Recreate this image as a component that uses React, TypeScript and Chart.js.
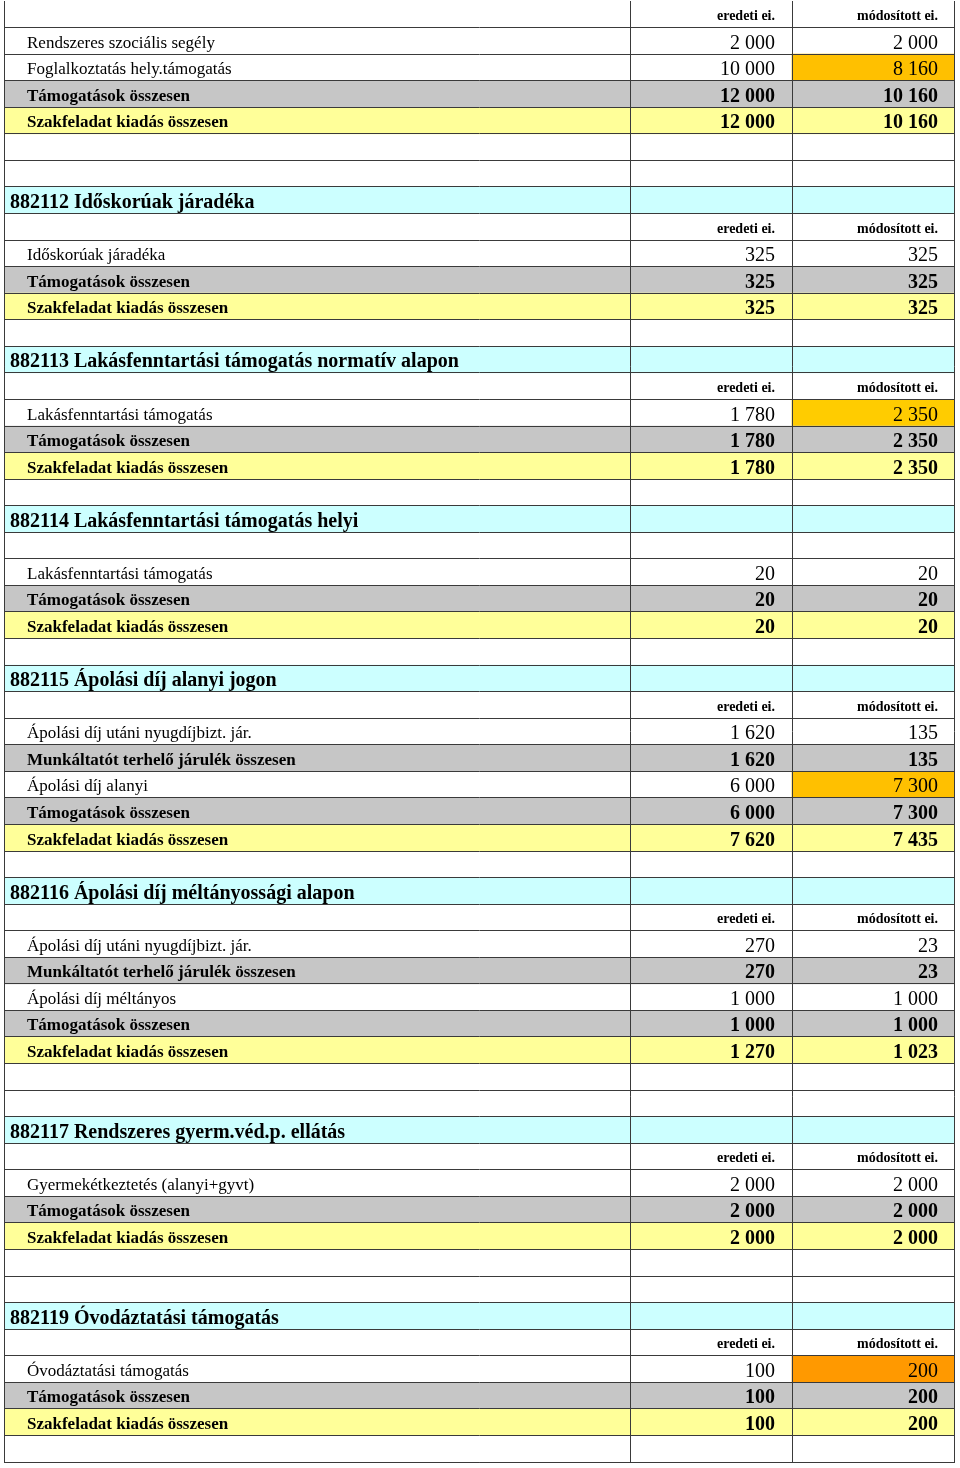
import React, { useEffect, useRef } from "react";
import { Chart, registerables } from "chart.js";

Chart.register(...registerables);

// ---- data ----
const ROW_KINDS: string[] = [
  "head", "item", "item", "sum", "total", "blank", "blank",
  "title", "head", "item", "sum", "total", "blank",
  "title", "head", "item", "sum", "total", "blank",
  "title", "blank", "item", "sum", "total", "blank",
  "title", "head", "item", "sum", "item", "sum", "total", "blank",
  "title", "head", "item", "sum", "item", "sum", "total", "blank", "blank",
  "title", "head", "item", "sum", "total", "blank", "blank",
  "title", "head", "item", "sum", "total", "blank",
];

const ROW_LABELS: string[] = [
  "", "Rendszeres szociális segély", "Foglalkoztatás hely.támogatás", "Támogatások összesen", "Szakfeladat kiadás összesen", "", "",
  "882112 Időskorúak járadéka", "", "Időskorúak járadéka", "Támogatások összesen", "Szakfeladat kiadás összesen", "",
  "882113 Lakásfenntartási támogatás normatív alapon", "", "Lakásfenntartási támogatás", "Támogatások összesen", "Szakfeladat kiadás összesen", "",
  "882114 Lakásfenntartási támogatás helyi", "", "Lakásfenntartási támogatás", "Támogatások összesen", "Szakfeladat kiadás összesen", "",
  "882115 Ápolási díj alanyi jogon", "", "Ápolási díj utáni nyugdíjbizt. jár.", "Munkáltatót terhelő járulék összesen", "Ápolási díj alanyi", "Támogatások összesen", "Szakfeladat kiadás összesen", "",
  "882116 Ápolási díj méltányossági alapon", "", "Ápolási díj utáni nyugdíjbizt. jár.", "Munkáltatót terhelő járulék összesen", "Ápolási díj méltányos", "Támogatások összesen", "Szakfeladat kiadás összesen", "", "",
  "882117 Rendszeres gyerm.véd.p. ellátás", "", "Gyermekétkeztetés (alanyi+gyvt)", "Támogatások összesen", "Szakfeladat kiadás összesen", "", "",
  "882119 Óvodáztatási támogatás", "", "Óvodáztatási támogatás", "Támogatások összesen", "Szakfeladat kiadás összesen", "",
];

const EREDETI: (number | null)[] = [
  null, 2000, 10000, 12000, 12000, null, null,
  null, null, 325, 325, 325, null,
  null, null, 1780, 1780, 1780, null,
  null, null, 20, 20, 20, null,
  null, null, 1620, 1620, 6000, 6000, 7620, null,
  null, null, 270, 270, 1000, 1000, 1270, null, null,
  null, null, 2000, 2000, 2000, null, null,
  null, null, 100, 100, 100, null,
];

const MODOSITOTT: (number | null)[] = [
  null, 2000, 8160, 10160, 10160, null, null,
  null, null, 325, 325, 325, null,
  null, null, 2350, 2350, 2350, null,
  null, null, 20, 20, 20, null,
  null, null, 135, 135, 7300, 7300, 7435, null,
  null, null, 23, 23, 1000, 1000, 1023, null, null,
  null, null, 2000, 2000, 2000, null, null,
  null, null, 200, 200, 200, null,
];

const MOD_HIGHLIGHT: (string | null)[] = ROW_KINDS.map(() => null);
MOD_HIGHLIGHT[2] = "amber";
MOD_HIGHLIGHT[15] = "gold";
MOD_HIGHLIGHT[29] = "amber";
MOD_HIGHLIGHT[51] = "orange";

const HEADER_LABELS: string[] = ["eredeti ei.", "módosított ei."];
const COLUMNS: string[] = ["megnevezés", "eredeti ei.", "módosított ei."];

// ---- layout / style ----
const COL_EDGES = [0, 626, 788, 950];
const FILL: Record<string, string> = {
  sum: "#C6C6C6",
  total: "#FFFF99",
  title: "#CCFFFF",
};
const HL: Record<string, string> = {
  amber: "#FFC000",
  gold: "#FFCC00",
  orange: "#FF9900",
};
const SERIF = '"Liberation Serif", "Times New Roman", serif';
const LINE = "#3a3a3a";

function fmt(n: number): string {
  return String(n).replace(/\B(?=(\d{3})+(?!\d))/g, " ");
}

const textPlugin = {
  id: "tableText",
  afterDraw(chart: any) {
    const { ctx } = chart;
    const xs = chart.scales.x;
    const ys = chart.scales.y;
    const rowH = Math.abs(ys.getPixelForValue(1) - ys.getPixelForValue(0));
    const x0 = xs.getPixelForValue(COL_EDGES[0]);
    const xB = xs.getPixelForValue(COL_EDGES[2]);
    const xC = xs.getPixelForValue(COL_EDGES[3]);
    ctx.save();
    ctx.fillStyle = "#000";
    ROW_KINDS.forEach((kind, i) => {
      const bottom = ys.getPixelForValue(i) + rowH / 2;
      if (kind === "head") {
        ctx.font = `bold 14px ${SERIF}`;
        ctx.textAlign = "right";
        ctx.textBaseline = "alphabetic";
        ctx.fillText(HEADER_LABELS[0], xB - 17, bottom - 7.5);
        ctx.fillText(HEADER_LABELS[1], xC - 16, bottom - 7.5);
        return;
      }
      const label = ROW_LABELS[i];
      if (label) {
        ctx.textAlign = "left";
        ctx.textBaseline = "alphabetic";
        if (kind === "title") {
          ctx.font = `bold 20px ${SERIF}`;
          ctx.fillText(label, x0 + 6, bottom - 5.5);
        } else {
          ctx.font = `${kind === "item" ? "" : "bold "}17px ${SERIF}`;
          ctx.fillText(label, x0 + 23, bottom - 6.5);
        }
      }
      const bold = kind === "sum" || kind === "total";
      ctx.font = `${bold ? "bold " : ""}20px ${SERIF}`;
      ctx.textAlign = "right";
      const e = EREDETI[i];
      const m = MODOSITOTT[i];
      if (e !== null) ctx.fillText(fmt(e), xB - 17, bottom - 5.5);
      if (m !== null) ctx.fillText(fmt(m), xC - 16, bottom - 5.5);
    });
    ctx.restore();
  },
};

export default function App() {
  const ref = useRef<HTMLCanvasElement | null>(null);

  useEffect(() => {
    if (!ref.current) return;
    const rowIds = ROW_KINDS.map((_, i) => String(i));
    const datasets = COLUMNS.map((name, ci) => ({
      label: name,
      data: rowIds.map(() => [COL_EDGES[ci], COL_EDGES[ci + 1]]),
      backgroundColor: ROW_KINDS.map((k, i) =>
        ci === 2 && MOD_HIGHLIGHT[i] ? HL[MOD_HIGHLIGHT[i] as string] : FILL[k] || "rgba(0,0,0,0)"
      ),
      borderWidth: 0,
      grouped: false,
      barPercentage: 1,
      categoryPercentage: 1,
    }));

    const chart = new Chart(ref.current, {
      type: "bar",
      data: { labels: rowIds, datasets: datasets as any },
      options: {
        indexAxis: "y",
        responsive: false,
        animation: false,
        devicePixelRatio: 1,
        layout: { padding: { left: 4, right: 6, top: 1, bottom: 6 } },
        plugins: { legend: { display: false }, tooltip: { enabled: false } },
        scales: {
          x: {
            type: "linear",
            min: COL_EDGES[0],
            max: COL_EDGES[COL_EDGES.length - 1],
            afterBuildTicks: (s: any) => {
              s.ticks = COL_EDGES.map((v) => ({ value: v }));
            },
            afterFit: (s: any) => {
              s.height = 0;
            },
            ticks: { display: false },
            grid: { color: LINE, lineWidth: 1, drawTicks: false, z: 1 },
            border: { display: true, color: LINE, width: 1, z: 1 },
          },
          y: {
            type: "category",
            offset: true,
            afterFit: (s: any) => {
              s.width = 0;
            },
            ticks: { display: false },
            grid: {
              offset: true,
              drawTicks: false,
              lineWidth: 1,
              z: 1,
              color: (c: any) => (c.index === 0 ? "rgba(0,0,0,0)" : LINE),
            },
            border: { display: true, color: LINE, width: 1, z: 1 },
          },
        },
      },
      plugins: [textPlugin],
    });
    return () => chart.destroy();
  }, []);

  return (
    <div style={{ position: "absolute", left: 0, top: 0, width: 960, height: 1468, background: "#FFFFFF" }}>
      <canvas ref={ref} width={960} height={1468} style={{ display: "block" }} />
    </div>
  );
}
